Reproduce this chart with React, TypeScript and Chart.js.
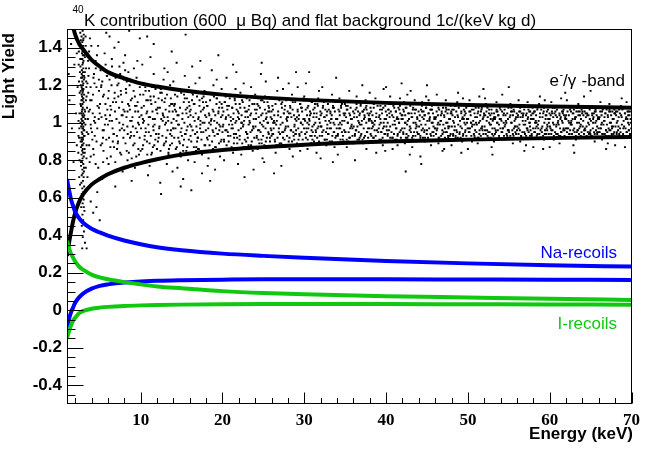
import React, { useEffect, useRef } from 'react';
import { Chart, registerables } from 'chart.js';

Chart.register(...registerables);

// ---- axis ticks ----
const xTickValues = [10, 20, 30, 40, 50, 60, 70];
const xMinorTicks = [2, 4, 6, 8, 12, 14, 16, 18, 22, 24, 26, 28, 32, 34, 36, 38, 42, 44, 46, 48, 52, 54, 56, 58, 62, 64, 66, 68];
const yTickValues = [-0.4, -0.2, 0, 0.2, 0.4, 0.6, 0.8, 1, 1.2, 1.4];
const yMinorTicks = [-0.45, -0.35, -0.3, -0.25, -0.15, -0.1, -0.05, 0.05, 0.1, 0.15, 0.25, 0.3, 0.35, 0.45, 0.5, 0.55, 0.65, 0.7, 0.75, 0.85, 0.9, 0.95, 1.05, 1.1, 1.15, 1.25, 1.3, 1.35, 1.45, 1.5];

// ---- band curves (energy keV -> light yield) ----
const curveEnergy = [1, 1.25, 1.5, 1.75, 2, 2.5, 3, 4, 5, 6, 8, 10, 12, 15, 20, 25, 30, 40, 50, 60, 70];
const eBandUpper = [1.67, 1.6, 1.55, 1.51, 1.47, 1.42, 1.39, 1.335, 1.3, 1.27, 1.237, 1.21, 1.193, 1.173, 1.15, 1.134, 1.122, 1.106, 1.095, 1.087, 1.08];
const eBandLower = [0.29, 0.36, 0.42, 0.475, 0.52, 0.58, 0.62, 0.67, 0.7, 0.725, 0.76, 0.785, 0.805, 0.83, 0.855, 0.87, 0.883, 0.9, 0.91, 0.918, 0.924];
const naUpper = [0.7, 0.64, 0.59, 0.555, 0.525, 0.49, 0.465, 0.435, 0.415, 0.398, 0.372, 0.352, 0.336, 0.32, 0.302, 0.29, 0.28, 0.263, 0.25, 0.24, 0.233];
const naLower = [-0.09, -0.045, -0.01, 0.015, 0.04, 0.07, 0.09, 0.115, 0.13, 0.138, 0.148, 0.153, 0.157, 0.16, 0.163, 0.165, 0.165, 0.165, 0.164, 0.163, 0.162];
const iUpper = [0.37, 0.33, 0.3, 0.28, 0.26, 0.232, 0.215, 0.19, 0.175, 0.165, 0.15, 0.138, 0.127, 0.117, 0.102, 0.092, 0.085, 0.075, 0.068, 0.061, 0.055];
const iLower = [-0.15, -0.11, -0.08, -0.055, -0.04, -0.015, -0.003, 0.008, 0.014, 0.018, 0.023, 0.026, 0.028, 0.03, 0.032, 0.033, 0.033, 0.033, 0.032, 0.031, 0.03];

// ---- scattered events [energy keV, light yield] ----
const peak3keV = [
  [2.91,1.49],[2.78,1.46],[3.05,1.47],[2.86,1.43],[2.97,1.41],[2.69,1.44],[3.12,1.39],[2.83,1.37],[2.94,1.36],[2.75,1.34],
  [3.02,1.33],[2.88,1.31],[2.64,1.3],[2.99,1.29],[3.18,1.27],[2.81,1.28],[2.92,1.25],[2.73,1.24],[3.06,1.23],[2.87,1.22],
  [2.95,1.2],[2.79,1.19],[3.01,1.18],[2.68,1.17],[2.9,1.16],[3.09,1.15],[2.84,1.14],[2.96,1.13],[2.76,1.12],[3.03,1.11],
  [2.89,1.1],[2.93,1.08],[2.71,1.09],[3.14,1.07],[2.82,1.06],[2.98,1.05],[2.87,1.04],[3.04,1.03],[2.77,1.02],[2.92,1.01],
  [2.85,0.99],[3.0,0.98],[2.66,1.0],[2.94,0.97],[3.11,0.96],[2.8,0.95],[2.89,0.94],[3.07,0.93],[2.74,0.92],[2.96,0.91],
  [2.83,0.9],[3.02,0.89],[2.91,0.88],[2.7,0.87],[3.15,0.86],[2.86,0.85],[2.97,0.84],[2.78,0.83],[3.05,0.82],[2.9,0.81],
  [2.84,0.79],[2.99,0.78],[2.72,0.77],[3.08,0.76],[2.88,0.75],[2.93,0.73],[2.8,0.72],[3.03,0.71],[2.95,0.69],[2.76,0.68],
  [3.1,0.66],[2.87,0.65],[2.98,0.63],[2.82,0.61],[3.04,0.59],[2.91,0.57],[2.74,0.55],[3.13,0.53],[2.89,0.51],[2.97,0.48],
  [2.81,0.45],[3.07,0.42],[2.93,0.39],[3.2,0.36],[2.86,0.33],[3.01,1.45],[2.89,1.38],[2.8,1.26],[3.0,1.21],[2.9,1.12],
  [2.85,1.07],[3.06,1.0],[2.94,0.92],[2.79,1.15],[2.93,1.03],[2.88,0.97],[3.08,1.25],[2.72,1.05],[2.95,1.32],[2.83,0.88]
];

// flat lists: energy, yield, energy, yield, ...
const peak3keVWide = [
  2.45,1.38, 3.35,1.22, 2.52,1.05, 3.42,0.95, 2.38,0.84, 3.28,1.41, 2.58,1.27, 3.31,1.12, 2.49,0.71, 3.38,0.81,
  2.62,1.48, 3.25,0.99, 2.55,1.16, 3.22,0.64, 2.43,1.31, 3.45,1.08, 2.67,0.9, 3.19,1.35, 2.51,0.97, 3.36,1.19,
  2.6,0.58, 3.3,0.76, 2.47,1.22, 3.24,1.02, 2.57,1.42, 3.4,0.88, 2.65,1.1, 3.16,0.93, 2.41,1.01, 3.33,1.29,
  2.54,0.8, 3.27,1.46, 2.63,1.34, 3.21,1.06, 2.48,0.92, 3.39,1.14, 2.59,0.67, 3.17,0.84, 2.69,1.2, 3.13,1.24,
  2.77,1.4, 3.09,1.36, 2.81,0.62, 3.05,0.55, 2.73,0.98, 3.0,1.13, 2.85,1.18, 2.96,1.27, 2.79,0.91, 3.04,0.96,
  2.88,1.34, 2.92,0.86, 2.75,1.09, 3.11,1.04, 2.83,1.24, 2.98,1.44, 2.7,0.79, 3.07,0.74, 2.86,1.01, 2.95,1.17
];

const bgLowEnergy = [
  [1.3,1.12],[1.6,0.97],[1.9,1.31],[2.1,1.05],[2.2,0.88],[1.5,1.42],[2.3,1.19],[1.8,0.79],[2.0,1.47],[2.4,0.93],[1.2,1.26],[2.2,1.37],
  [3.5,1.21],[3.6,0.94],[3.7,1.38],[3.8,1.07],[3.9,0.82],[3.6,1.16],[3.8,1.45],[3.9,0.99],[3.5,0.71],[3.7,1.29],
  [4.0,1.12],[4.1,0.91],[4.3,1.26],[4.4,1.03],[4.5,0.78],[4.6,1.19],[4.7,0.97],[4.8,1.41],[4.9,1.08],[4.2,0.86],[4.5,1.33],[4.7,0.63],[4.3,1.01],[4.9,1.23],
  [5.0,1.05],[5.1,1.28],[5.3,0.89],[5.4,1.14],[5.5,0.96],[5.6,1.37],[5.8,1.02],[5.9,0.81],[5.2,1.2],[5.4,0.92],[5.7,1.1],[5.8,1.48],[5.3,0.7],[5.9,1.25],
  [6.0,0.99],[6.1,1.17],[6.3,0.87],[6.4,1.07],[6.5,1.3],[6.7,0.94],[6.8,1.13],[6.9,0.79],[6.2,1.23],[6.5,1.01],[6.6,0.9],[6.8,1.4],[6.3,1.09],[6.9,0.66],
  [7.0,1.11],[7.1,0.93],[7.3,1.21],[7.4,1.0],[7.5,0.84],[7.6,1.15],[7.8,1.04],[7.9,1.32],[7.2,0.89],[7.5,1.26],[7.7,0.97],[7.8,0.74],[7.3,1.43],[7.9,1.07],
  [8.0,0.96],[8.2,1.18],[8.3,0.85],[8.4,1.06],[8.5,1.27],[8.7,0.92],[8.8,1.12],[8.9,1.01],[8.1,1.36],[8.4,0.8],[8.6,1.09],[8.8,0.95],[8.3,1.22],[8.9,0.69],
  [9.0,1.03],[9.1,0.88],[9.3,1.14],[9.4,0.97],[9.5,1.24],[9.7,1.06],[9.8,0.83],[9.9,1.19],[9.2,0.93],[9.5,1.09],[9.6,1.33],[9.8,0.99],[9.3,0.76],[9.9,1.45],
  [4.2,0.52],[5.0,0.48],[3.6,0.45],[3.9,0.58],[4.6,0.55],[3.4,0.33]
];

const bgLowEnergyDense = [
  3.55,1.02, 3.62,1.25, 3.71,0.88, 3.84,1.12, 3.93,0.97, 3.58,1.33, 3.77,0.79, 3.88,1.19, 3.66,1.06, 3.97,1.41,
  4.05,0.95, 4.18,1.15, 4.27,0.83, 4.36,1.21, 4.44,1.0, 4.52,1.29, 4.61,0.9, 4.73,1.09, 4.82,0.76, 4.91,1.17, 4.14,1.05, 4.39,0.93, 4.66,1.36, 4.87,1.02, 4.23,1.24,
  5.04,1.1, 5.13,0.88, 5.22,1.03, 5.31,1.22, 5.42,0.79, 5.51,1.15, 5.63,0.99, 5.72,1.31, 5.81,0.91, 5.93,1.07, 5.17,1.19, 5.46,0.85, 5.68,1.04, 5.87,1.25, 5.36,0.96,
  6.03,1.13, 6.14,0.92, 6.26,1.04, 6.35,0.82, 6.44,1.2, 6.57,0.97, 6.62,1.11, 6.75,0.87, 6.86,1.06, 6.94,1.24, 6.21,1.01, 6.48,1.34, 6.71,0.94, 6.83,1.16, 6.08,0.78,
  7.05,1.02, 7.16,1.2, 7.24,0.9, 7.37,1.08, 7.45,0.96, 7.58,1.17, 7.63,0.83, 7.74,1.11, 7.86,0.99, 7.95,1.23, 7.12,0.86, 7.41,1.3, 7.68,1.04, 7.89,0.92, 7.27,1.14,
  8.04,1.06, 8.15,0.89, 8.23,1.16, 8.38,0.98, 8.47,1.1, 8.56,0.84, 8.65,1.2, 8.73,1.01, 8.84,0.93, 8.96,1.13, 8.11,1.28, 8.42,0.94, 8.69,1.07, 8.91,0.81, 8.27,1.03,
  9.05,0.98, 9.14,1.17, 9.26,0.89, 9.35,1.06, 9.43,1.22, 9.57,0.95, 9.64,1.11, 9.72,0.86, 9.85,1.03, 9.94,1.15, 9.18,1.29, 9.47,0.82, 9.69,1.0, 9.88,0.92, 9.31,1.09
];

const bgMidEnergy = [
  [10.1,1.04],[10.3,0.88],[10.4,1.21],[10.6,0.97],[10.7,1.12],[10.9,0.79],[10.2,1.31],[10.5,0.93],[10.8,1.06],[10.0,0.85],[10.6,1.17],[10.3,1.0],[10.9,0.72],[10.4,1.09],
  [11.0,0.95],[11.2,1.14],[11.3,0.83],[11.5,1.02],[11.6,1.26],[11.8,0.91],[11.9,1.07],[11.1,0.77],[11.4,1.19],[11.7,0.99],[11.5,0.87],[11.2,1.35],[11.8,1.11],[11.0,1.03],
  [12.1,1.08],[12.2,0.92],[12.4,1.16],[12.5,0.81],[12.7,1.01],[12.8,1.23],[12.9,0.89],[12.3,0.98],[12.6,1.12],[12.0,0.86],[12.4,0.68],[12.7,1.05],[12.9,1.29],[12.2,0.94],
  [13.0,1.13],[13.1,0.9],[13.3,1.03],[13.4,0.84],[13.6,1.2],[13.7,0.96],[13.9,1.1],[13.2,0.78],[13.5,1.06],[13.8,0.93],[13.3,1.27],[13.6,0.88],[13.1,1.0],[13.9,0.74],
  [14.0,0.97],[14.2,1.15],[14.3,0.86],[14.5,1.04],[14.6,0.92],[14.8,1.18],[14.9,0.82],[14.1,1.09],[14.4,1.32],[14.7,0.99],[14.5,0.76],[14.2,1.07],[14.8,0.89],[14.0,1.22],
  [15.1,1.02],[15.2,0.85],[15.4,1.13],[15.5,0.94],[15.7,1.08],[15.8,0.8],[15.9,1.19],[15.3,0.91],[15.6,1.05],[15.0,0.97],[15.4,1.25],[15.7,0.87],[15.2,0.7],[15.9,1.11],
  [16.0,1.06],[16.1,0.93],[16.3,1.16],[16.4,0.84],[16.6,1.01],[16.7,1.21],[16.9,0.9],[16.2,0.98],[16.5,1.1],[16.8,0.87],[16.3,1.3],[16.6,0.79],[16.1,1.04],[16.9,0.95],
  [17.0,0.92],[17.2,1.12],[17.3,0.99],[17.5,0.83],[17.6,1.07],[17.8,1.17],[17.9,0.88],[17.1,1.03],[17.4,0.95],[17.7,1.14],[17.5,0.73],[17.2,1.24],[17.8,1.0],[17.0,0.86],
  [18.1,1.09],[18.2,0.91],[18.4,1.04],[18.5,0.85],[18.7,1.15],[18.8,0.96],[18.9,1.2],[18.3,0.81],[18.6,1.01],[18.0,1.11],[18.4,0.93],[18.7,1.28],[18.2,0.77],[18.9,1.06],
  [19.0,1.01],[19.1,0.87],[19.3,1.13],[19.4,0.94],[19.6,1.08],[19.7,0.82],[19.9,1.18],[19.2,0.97],[19.5,1.05],[19.8,0.9],[19.3,1.23],[19.6,0.99],[19.1,0.75],[19.9,1.1],
  [20.0,1.04],[20.2,0.9],[20.3,1.11],[20.5,0.96],[20.6,1.07],[20.8,0.86],[20.9,1.15],[20.1,0.99],[20.4,1.02],[20.7,0.93],[20.5,1.24],[20.2,0.8],[20.8,1.09],[20.0,0.95],
  [21.1,0.97],[21.2,1.08],[21.4,0.89],[21.5,1.13],[21.7,1.01],[21.8,0.92],[21.9,1.06],[21.3,0.84],[21.6,1.18],[21.0,1.03],[21.4,0.94],[21.7,1.27],[21.2,0.99],[21.9,0.78],
  [22.0,1.05],[22.1,0.91],[22.3,1.0],[22.4,1.12],[22.6,0.87],[22.7,1.08],[22.9,0.95],[22.2,1.16],[22.5,0.98],[22.8,1.03],[22.3,0.83],[22.6,1.21],[22.1,1.1],[22.9,0.9],
  [23.0,0.94],[23.2,1.07],[23.3,1.01],[23.5,0.88],[23.6,1.14],[23.8,0.97],[23.9,1.1],[23.1,0.92],[23.4,1.04],[23.7,0.85],[23.5,1.19],[23.2,0.99],[23.8,0.75],[23.0,1.06],
  [24.1,1.02],[24.2,0.93],[24.4,1.09],[24.5,0.96],[24.7,1.12],[24.8,0.89],[24.9,1.05],[24.3,0.86],[24.6,1.0],[24.0,1.15],[24.4,0.91],[24.7,1.26],[24.2,1.07],[24.9,0.81],
  [25.0,0.98],[25.1,1.11],[25.3,0.9],[25.4,1.03],[25.6,0.95],[25.7,1.08],[25.9,0.87],[25.2,1.14],[25.5,1.0],[25.8,0.92],[25.3,1.22],[25.6,1.06],[25.1,0.79],[25.9,0.97],
  [26.0,1.06],[26.2,0.94],[26.3,1.01],[26.5,1.13],[26.6,0.88],[26.8,1.04],[26.9,0.97],[26.1,1.09],[26.4,0.91],[26.7,1.17],[26.5,0.84],[26.2,1.0],[26.8,1.24],[26.0,0.93],
  [27.1,0.99],[27.2,1.1],[27.4,0.92],[27.5,1.05],[27.7,0.87],[27.8,1.12],[27.9,1.01],[27.3,0.95],[27.6,1.07],[27.0,0.89],[27.4,1.18],[27.7,0.97],[27.2,0.77],[27.9,1.03],
  [28.0,1.03],[28.1,0.9],[28.3,1.08],[28.4,0.96],[28.6,1.11],[28.7,0.93],[28.9,1.02],[28.2,0.86],[28.5,1.15],[28.8,0.98],[28.3,1.05],[28.6,0.82],[28.1,1.21],[28.9,0.94],
  [29.0,0.96],[29.2,1.06],[29.3,0.91],[29.5,1.1],[29.6,1.0],[29.8,0.88],[29.9,1.13],[29.1,1.03],[29.4,0.94],[29.7,1.08],[29.5,0.85],[29.2,1.19],[29.8,0.99],[29.0,1.27],
  [30.1,1.01],[30.2,0.92],[30.4,1.08],[30.5,0.97],[30.7,1.04],[30.8,0.89],[30.9,1.11],[30.3,0.95],[30.6,1.02],[30.0,1.14],[30.4,0.86],[30.7,1.06],[30.2,1.21],[30.9,0.93],
  [31.0,0.98],[31.1,1.07],[31.3,0.93],[31.5,1.03],[31.6,1.1],[31.8,0.9],[31.9,1.0],[31.2,1.05],[31.4,0.96],[31.7,1.13],[31.5,0.84],[31.2,0.99],[31.8,1.17],[31.0,0.91],
  [32.0,1.04],[32.2,0.95],[32.3,1.09],[32.5,0.91],[32.6,1.01],[32.8,1.06],[32.9,0.94],[32.1,0.98],[32.4,1.12],[32.7,0.88],[32.5,1.03],[32.2,1.19],[32.8,0.97],[32.0,0.81],
  [33.1,0.97],[33.2,1.05],[33.4,0.9],[33.5,1.08],[33.7,0.99],[33.8,1.11],[33.9,0.93],[33.3,1.02],[33.6,0.95],[33.0,1.07],[33.4,1.15],[33.7,0.87],[33.2,1.0],[33.9,1.24],
  [34.0,1.02],[34.1,0.93],[34.3,1.06],[34.4,0.97],[34.6,1.1],[34.7,0.91],[34.9,1.04],[34.2,0.99],[34.5,1.08],[34.8,0.89],[34.3,1.13],[34.6,0.95],[34.1,0.83],[34.9,1.01],
  [35.0,0.95],[35.2,1.07],[35.3,1.0],[35.5,0.92],[35.6,1.04],[35.8,1.11],[35.9,0.97],[35.1,1.09],[35.4,0.9],[35.7,1.02],[35.5,1.17],[35.2,0.87],[35.8,0.99],[35.0,1.05],
  [36.1,1.03],[36.2,0.94],[36.4,1.08],[36.5,0.98],[36.7,0.91],[36.8,1.05],[36.9,1.1],[36.3,0.96],[36.6,1.01],[36.0,0.89],[36.4,1.14],[36.7,1.0],[36.2,0.8],[36.9,0.93],
  [37.0,0.99],[37.1,1.06],[37.3,0.92],[37.4,1.03],[37.6,1.09],[37.7,0.95],[37.9,1.01],[37.2,0.89],[37.5,1.12],[37.8,0.97],[37.3,1.07],[37.6,0.86],[37.1,1.2],[37.9,1.04],
  [38.0,1.05],[38.2,0.93],[38.3,1.0],[38.5,1.1],[38.6,0.96],[38.8,1.03],[38.9,0.9],[38.1,1.08],[38.4,0.98],[38.7,1.13],[38.5,0.92],[38.2,1.01],[38.8,0.84],[38.0,1.16],
  [39.1,0.97],[39.2,1.04],[39.4,0.91],[39.5,1.07],[39.7,1.0],[39.8,0.94],[39.9,1.09],[39.3,1.02],[39.6,0.88],[39.0,1.11],[39.4,0.95],[39.7,1.18],[39.2,0.99],[39.9,0.85]
];

const bgMidEnergyDense = [
  10.05,0.97, 10.12,1.08, 10.21,0.86, 10.33,1.15, 10.41,1.01, 10.48,0.91, 10.57,1.19, 10.64,0.95, 10.72,1.05, 10.81,0.83, 10.88,1.12, 10.95,0.99, 11.03,1.17, 11.09,0.89, 11.16,1.03, 11.24,0.93, 11.31,1.1, 11.38,0.84, 11.45,1.06, 11.53,0.98, 11.61,1.14, 11.67,0.88, 11.74,1.02, 11.82,1.18, 11.89,0.94, 11.96,1.07, 10.27,1.02, 10.77,0.9, 11.21,1.12, 11.58,0.96,
  12.04,1.05, 12.11,0.9, 12.19,1.13, 12.27,0.97, 12.35,1.08, 12.43,0.85, 12.52,1.02, 12.58,1.16, 12.66,0.93, 12.74,1.04, 12.83,0.88, 12.91,1.11, 12.98,0.99, 13.06,1.07, 13.13,0.92, 13.22,1.15, 13.29,0.96, 13.37,1.01, 13.46,0.86, 13.53,1.09, 13.61,0.94, 13.69,1.13, 13.77,1.0, 13.84,0.89, 13.92,1.06, 13.99,0.97, 12.47,1.18, 12.88,1.03, 13.41,0.83, 13.73,1.1,
  14.03,1.02, 14.11,0.92, 14.18,1.1, 14.26,0.97, 14.34,1.06, 14.42,0.87, 14.49,1.14, 14.57,0.99, 14.64,1.04, 14.72,0.9, 14.81,1.08, 14.89,0.95, 14.96,1.16, 15.04,0.93, 15.12,1.05, 15.19,0.88, 15.27,1.11, 15.35,1.0, 15.43,0.94, 15.51,1.07, 15.58,0.85, 15.66,1.13, 15.74,0.98, 15.82,1.03, 15.89,0.91, 15.97,1.09, 14.38,1.01, 14.85,0.84, 15.31,1.15, 15.62,0.96,
  16.04,0.99, 16.12,1.07, 16.19,0.9, 16.28,1.12, 16.35,0.96, 16.43,1.03, 16.51,0.87, 16.58,1.1, 16.66,0.94, 16.73,1.05, 16.82,0.98, 16.89,1.14, 16.97,0.92, 17.04,1.02, 17.12,0.86, 17.19,1.09, 17.27,0.97, 17.36,1.06, 17.43,0.91, 17.51,1.13, 17.58,1.0, 17.66,0.95, 17.74,1.08, 17.81,0.88, 17.89,1.04, 17.97,0.96, 16.39,1.15, 16.77,0.85, 17.31,1.01, 17.62,1.11,
  18.03,1.03, 18.11,0.92, 18.18,1.09, 18.26,0.97, 18.34,1.05, 18.42,0.88, 18.49,1.12, 18.57,0.99, 18.65,1.02, 18.73,0.9, 18.81,1.07, 18.88,0.95, 18.96,1.14, 19.04,0.93, 19.12,1.04, 19.19,0.87, 19.27,1.1, 19.35,1.0, 19.43,0.94, 19.51,1.06, 19.58,0.89, 19.66,1.11, 19.74,0.98, 19.82,1.03, 19.89,0.91, 19.97,1.08, 18.38,1.0, 18.85,0.86, 19.31,1.13, 19.62,0.96,
  20.04,0.98, 20.12,1.06, 20.19,0.91, 20.27,1.11, 20.35,0.96, 20.43,1.03, 20.51,0.88, 20.58,1.09, 20.66,0.95, 20.74,1.04, 20.82,0.99, 20.89,1.13, 20.97,0.93, 21.04,1.01, 21.12,0.87, 21.19,1.08, 21.27,0.97, 21.36,1.05, 21.43,0.92, 21.51,1.12, 21.58,1.0, 21.66,0.94, 21.74,1.07, 21.81,0.89, 21.89,1.03, 21.97,0.96, 20.39,1.14, 20.77,0.9, 21.31,1.02, 21.62,1.1,
  22.03,1.02, 22.11,0.93, 22.18,1.08, 22.26,0.97, 22.34,1.04, 22.42,0.89, 22.49,1.11, 22.57,0.99, 22.65,1.01, 22.73,0.91, 22.81,1.06, 22.88,0.95, 22.96,1.13, 23.04,0.94, 23.12,1.03, 23.19,0.88, 23.27,1.09, 23.35,1.0, 23.43,0.95, 23.51,1.05, 23.58,0.9, 23.66,1.1, 23.74,0.98, 23.82,1.02, 23.89,0.92, 23.97,1.07, 22.38,1.0, 22.85,0.87, 23.31,1.12, 23.62,0.96,
  24.04,0.98, 24.12,1.05, 24.19,0.92, 24.27,1.1, 24.35,0.96, 24.43,1.03, 24.51,0.89, 24.58,1.08, 24.66,0.95, 24.74,1.04, 24.82,0.99, 24.89,1.12, 24.97,0.93, 25.04,1.01, 25.12,0.88, 25.19,1.07, 25.27,0.97, 25.36,1.05, 25.43,0.92, 25.51,1.11, 25.58,1.0, 25.66,0.94, 25.74,1.06, 25.81,0.9, 25.89,1.03, 25.97,0.96, 24.39,1.13, 24.77,0.91, 25.31,1.02, 25.62,1.09,
  26.03,1.02, 26.11,0.94, 26.18,1.07, 26.26,0.97, 26.34,1.04, 26.42,0.9, 26.49,1.1, 26.57,0.99, 26.65,1.01, 26.73,0.92, 26.81,1.06, 26.88,0.95, 26.96,1.12, 27.04,0.94, 27.12,1.03, 27.19,0.89, 27.27,1.08, 27.35,1.0, 27.43,0.95, 27.51,1.05, 27.58,0.91, 27.66,1.09, 27.74,0.98, 27.82,1.02, 27.89,0.93, 27.97,1.06, 26.38,1.0, 26.85,0.88, 27.31,1.11, 27.62,0.96,
  28.04,0.98, 28.12,1.05, 28.19,0.92, 28.27,1.09, 28.35,0.96, 28.43,1.03, 28.51,0.9, 28.58,1.07, 28.66,0.95, 28.74,1.04, 28.82,0.99, 28.89,1.11, 28.97,0.94, 29.04,1.01, 29.12,0.89, 29.19,1.07, 29.27,0.97, 29.36,1.04, 29.43,0.93, 29.51,1.1, 29.58,1.0, 29.66,0.95, 29.74,1.06, 29.81,0.91, 29.89,1.02, 29.97,0.97, 28.39,1.12, 28.77,0.91, 29.31,1.02, 29.62,1.08,
  30.03,1.02, 30.11,0.94, 30.18,1.07, 30.26,0.97, 30.34,1.04, 30.42,0.91, 30.49,1.09, 30.57,0.99, 30.65,1.01, 30.73,0.93, 30.81,1.05, 30.88,0.96, 30.96,1.11, 31.04,0.95, 31.12,1.03, 31.19,0.9, 31.27,1.08, 31.35,1.0, 31.43,0.95, 31.51,1.05, 31.58,0.92, 31.66,1.09, 31.74,0.98, 31.82,1.02, 31.89,0.93, 31.97,1.06, 30.38,1.0, 30.85,0.89, 31.31,1.1, 31.62,0.97,
  32.04,0.98, 32.12,1.05, 32.19,0.93, 32.27,1.08, 32.35,0.96, 32.43,1.03, 32.51,0.91, 32.58,1.07, 32.66,0.95, 32.74,1.04, 32.82,0.99, 32.89,1.1, 32.97,0.94, 33.04,1.01, 33.12,0.9, 33.19,1.06, 33.27,0.97, 33.36,1.04, 33.43,0.93, 33.51,1.09, 33.58,1.0, 33.66,0.95, 33.74,1.06, 33.81,0.92, 33.89,1.02, 33.97,0.97, 32.39,1.11, 32.77,0.91, 33.31,1.02, 33.62,1.08,
  34.03,1.02, 34.11,0.94, 34.18,1.07, 34.26,0.97, 34.34,1.04, 34.42,0.91, 34.49,1.09, 34.57,0.99, 34.65,1.01, 34.73,0.93, 34.81,1.05, 34.88,0.96, 34.96,1.1, 35.04,0.95, 35.12,1.03, 35.19,0.91, 35.27,1.07, 35.35,1.0, 35.43,0.95, 35.51,1.05, 35.58,0.92, 35.66,1.08, 35.74,0.98, 35.82,1.02, 35.89,0.93, 35.97,1.06, 34.38,1.0, 34.85,0.9, 35.31,1.09, 35.62,0.97,
  36.04,0.98, 36.12,1.05, 36.19,0.93, 36.27,1.07, 36.35,0.96, 36.43,1.03, 36.51,0.91, 36.58,1.06, 36.66,0.95, 36.74,1.04, 36.82,0.99, 36.89,1.09, 36.97,0.94, 37.04,1.01, 37.12,0.91, 37.19,1.06, 37.27,0.97, 37.36,1.04, 37.43,0.93, 37.51,1.08, 37.58,1.0, 37.66,0.95, 37.74,1.05, 37.81,0.92, 37.89,1.02, 37.97,0.97, 36.39,1.1, 36.77,0.92, 37.31,1.02, 37.62,1.07,
  38.03,1.02, 38.11,0.94, 38.18,1.06, 38.26,0.97, 38.34,1.04, 38.42,0.92, 38.49,1.08, 38.57,0.99, 38.65,1.01, 38.73,0.93, 38.81,1.05, 38.88,0.96, 38.96,1.09, 39.04,0.95, 39.12,1.03, 39.19,0.91, 39.27,1.07, 39.35,1.0, 39.43,0.95, 39.51,1.05, 39.58,0.92, 39.66,1.08, 39.74,0.98, 39.82,1.02, 39.89,0.94, 39.97,1.06, 38.38,1.0, 38.85,0.9, 39.31,1.09, 39.62,0.97
];

const bgHighEnergy = [
  [40.0,1.02],[40.2,0.94],[40.3,1.07],[40.5,0.98],[40.6,1.1],[40.8,0.92],[40.9,1.03],[40.1,0.96],[40.4,1.05],[40.7,0.9],[40.5,1.14],[40.2,1.0],[40.8,0.86],[40.0,1.19],
  [41.1,0.99],[41.2,1.06],[41.4,0.93],[41.5,1.02],[41.7,1.09],[41.8,0.96],[41.9,1.04],[41.3,0.91],[41.6,1.0],[41.0,1.08],[41.4,0.88],[41.7,1.13],[41.2,0.97],[41.9,1.21],
  [42.0,1.04],[42.1,0.95],[42.3,1.0],[42.4,1.08],[42.6,0.92],[42.7,1.05],[42.9,0.98],[42.2,1.11],[42.5,0.94],[42.8,1.02],[42.3,0.89],[42.6,1.15],[42.1,1.07],[42.9,0.83],
  [43.0,0.97],[43.2,1.03],[43.3,0.93],[43.5,1.07],[43.6,1.0],[43.8,0.95],[43.9,1.1],[43.1,1.05],[43.4,0.91],[43.7,0.99],[43.5,1.12],[43.2,0.87],[43.8,1.03],[43.0,1.17],
  [44.1,1.01],[44.2,0.92],[44.4,1.06],[44.5,0.97],[44.7,1.04],[44.8,0.9],[44.9,1.08],[44.3,0.99],[44.6,1.02],[44.0,0.94],[44.4,1.11],[44.7,0.96],[44.2,0.82],[44.9,1.14],
  [45.0,0.96],[45.2,1.05],[45.3,1.01],[45.5,0.93],[45.6,1.09],[45.8,0.98],[45.9,1.03],[45.1,0.91],[45.4,1.07],[45.7,1.0],[45.5,0.88],[45.2,1.12],[45.8,0.95],[45.0,1.2],
  [46.1,1.03],[46.2,0.96],[46.4,1.08],[46.5,0.92],[46.7,1.01],[46.8,1.06],[46.9,0.94],[46.3,0.99],[46.6,1.1],[46.0,0.97],[46.4,0.89],[46.7,1.04],[46.2,1.15],[46.9,0.85],
  [47.0,0.99],[47.1,1.04],[47.3,0.95],[47.4,1.07],[47.6,0.92],[47.7,1.02],[47.9,1.09],[47.2,0.97],[47.5,1.0],[47.8,0.93],[47.3,1.12],[47.6,0.98],[47.1,0.86],[47.9,1.05],
  [48.0,1.05],[48.2,0.94],[48.3,1.0],[48.5,1.09],[48.6,0.96],[48.8,1.03],[48.9,0.91],[48.1,1.07],[48.4,0.98],[48.7,1.11],[48.5,0.93],[48.2,1.01],[48.8,1.16],[48.0,0.88],
  [49.1,0.98],[49.2,1.06],[49.4,0.93],[49.5,1.02],[49.7,0.96],[49.8,1.08],[49.9,1.0],[49.3,0.9],[49.6,1.04],[49.0,0.95],[49.4,1.13],[49.7,0.99],[49.2,0.84],[49.9,1.1],
  [50.0,1.02],[50.2,0.95],[50.3,1.06],[50.5,0.98],[50.6,1.09],[50.8,0.93],[50.9,1.03],[50.1,0.97],[50.4,1.0],[50.7,1.07],[50.5,0.9],[50.2,1.12],[50.8,0.99],[50.0,0.86],
  [51.1,0.99],[51.2,1.05],[51.4,0.94],[51.5,1.01],[51.7,1.08],[51.8,0.96],[51.9,1.03],[51.3,0.92],[51.6,1.06],[51.0,1.0],[51.4,1.14],[51.7,0.97],[51.2,0.89],[51.9,1.18],
  [52.0,1.04],[52.1,0.96],[52.3,1.01],[52.4,0.93],[52.6,1.07],[52.7,0.99],[52.9,1.05],[52.2,1.1],[52.5,0.95],[52.8,1.02],[52.3,0.91],[52.6,1.0],[52.1,1.13],[52.9,0.87],
  [53.0,0.97],[53.2,1.03],[53.3,0.94],[53.5,1.06],[53.6,1.0],[53.8,0.92],[53.9,1.08],[53.1,1.02],[53.4,0.96],[53.7,1.04],[53.5,1.11],[53.2,0.9],[53.8,0.99],[53.0,0.83],
  [54.1,1.01],[54.2,0.95],[54.4,1.05],[54.5,0.98],[54.7,1.09],[54.8,0.93],[54.9,1.02],[54.3,0.97],[54.6,1.04],[54.0,1.07],[54.4,0.91],[54.7,1.0],[54.2,1.15],[54.9,0.96],
  [55.0,0.96],[55.2,1.04],[55.3,1.0],[55.5,0.94],[55.6,1.07],[55.8,0.98],[55.9,1.03],[55.1,0.92],[55.4,1.06],[55.7,1.01],[55.5,0.89],[55.2,1.1],[55.8,0.95],[55.0,1.19],
  [56.1,1.03],[56.2,0.97],[56.4,1.06],[56.5,0.93],[56.7,1.01],[56.8,1.05],[56.9,0.95],[56.3,0.99],[56.6,1.09],[56.0,0.96],[56.4,0.9],[56.7,1.03],[56.2,1.12],[56.9,0.85],
  [57.0,0.99],[57.1,1.04],[57.3,0.96],[57.4,1.07],[57.6,0.93],[57.7,1.02],[57.9,1.08],[57.2,0.97],[57.5,1.0],[57.8,0.94],[57.3,1.11],[57.6,0.98],[57.1,0.88],[57.9,1.05],
  [58.0,1.05],[58.2,0.95],[58.3,1.01],[58.5,1.08],[58.6,0.97],[58.8,1.03],[58.9,0.92],[58.1,1.06],[58.4,0.98],[58.7,1.1],[58.5,0.94],[58.2,1.0],[58.8,1.14],[58.0,0.87],
  [59.1,0.98],[59.2,1.05],[59.4,0.94],[59.5,1.02],[59.7,0.96],[59.8,1.07],[59.9,1.0],[59.3,0.91],[59.6,1.04],[59.0,0.97],[59.4,1.12],[59.7,0.99],[59.2,0.86],[59.9,1.09],
  [60.0,1.02],[60.2,0.96],[60.3,1.05],[60.5,0.99],[60.6,1.08],[60.8,0.94],[60.9,1.03],[60.1,0.97],[60.4,1.0],[60.7,1.06],[60.5,0.91],[60.2,1.11],[60.8,0.98],[60.0,0.87],
  [61.1,0.99],[61.2,1.04],[61.4,0.95],[61.5,1.01],[61.7,1.07],[61.8,0.96],[61.9,1.03],[61.3,0.93],[61.6,1.05],[61.0,1.0],[61.4,1.13],[61.7,0.97],[61.2,0.89],[61.9,1.16],
  [62.0,1.04],[62.1,0.97],[62.3,1.01],[62.4,0.94],[62.6,1.06],[62.7,0.99],[62.9,1.05],[62.2,1.09],[62.5,0.96],[62.8,1.02],[62.3,0.92],[62.6,1.0],[62.1,1.12],[62.9,0.88],
  [63.0,0.97],[63.2,1.03],[63.3,0.95],[63.5,1.06],[63.6,1.0],[63.8,0.93],[63.9,1.07],[63.1,1.02],[63.4,0.96],[63.7,1.04],[63.5,1.1],[63.2,0.91],[63.8,0.99],[63.0,0.84],
  [64.1,1.01],[64.2,0.96],[64.4,1.05],[64.5,0.98],[64.7,1.08],[64.8,0.94],[64.9,1.02],[64.3,0.97],[64.6,1.04],[64.0,1.06],[64.4,0.92],[64.7,1.0],[64.2,1.14],[64.9,0.95],
  [65.0,0.96],[65.2,1.04],[65.3,1.0],[65.5,0.94],[65.6,1.07],[65.8,0.98],[65.9,1.03],[65.1,0.93],[65.4,1.05],[65.7,1.01],[65.5,0.9],[65.2,1.09],[65.8,0.95],[65.0,1.17],
  [66.1,1.03],[66.2,0.97],[66.4,1.06],[66.5,0.94],[66.7,1.01],[66.8,1.05],[66.9,0.96],[66.3,0.99],[66.6,1.08],[66.0,0.95],[66.4,0.91],[66.7,1.03],[66.2,1.11],[66.9,0.86],
  [67.0,0.99],[67.1,1.04],[67.3,0.96],[67.4,1.06],[67.6,0.93],[67.7,1.02],[67.9,1.07],[67.2,0.97],[67.5,1.0],[67.8,0.94],[67.3,1.1],[67.6,0.98],[67.1,0.89],[67.9,1.05],
  [68.0,1.05],[68.2,0.95],[68.3,1.01],[68.5,1.07],[68.6,0.97],[68.8,1.03],[68.9,0.93],[68.1,1.06],[68.4,0.98],[68.7,1.09],[68.5,0.94],[68.2,1.0],[68.8,1.13],[68.0,0.88],
  [69.1,0.98],[69.2,1.05],[69.4,0.95],[69.5,1.02],[69.7,0.96],[69.8,1.06],[69.9,1.0],[69.3,0.92],[69.6,1.04],[69.0,0.97],[69.4,1.11],[69.7,0.99],[69.2,0.87],[69.9,1.08]
];

const bgHighEnergyDense = [
  40.04,0.98, 40.12,1.04, 40.19,0.93, 40.27,1.07, 40.35,0.96, 40.43,1.03, 40.51,0.92, 40.58,1.06, 40.66,0.95, 40.74,1.04, 40.82,0.99, 40.89,1.09, 40.97,0.94, 41.04,1.01, 41.12,0.91, 41.19,1.06, 41.27,0.97, 41.36,1.03, 41.43,0.94, 41.51,1.08, 41.58,1.0, 41.66,0.95, 41.74,1.05, 41.81,0.92, 41.89,1.02, 41.97,0.97, 40.39,1.1, 40.77,0.92, 41.31,1.02, 41.62,1.07,
  42.03,1.02, 42.11,0.94, 42.18,1.06, 42.26,0.97, 42.34,1.04, 42.42,0.92, 42.49,1.08, 42.57,0.99, 42.65,1.01, 42.73,0.93, 42.81,1.05, 42.88,0.96, 42.96,1.09, 43.04,0.95, 43.12,1.03, 43.19,0.92, 43.27,1.07, 43.35,1.0, 43.43,0.95, 43.51,1.05, 43.58,0.93, 43.66,1.07, 43.74,0.98, 43.82,1.02, 43.89,0.94, 43.97,1.06, 42.38,1.0, 42.85,0.91, 43.31,1.08, 43.62,0.97,
  44.04,0.98, 44.12,1.04, 44.19,0.93, 44.27,1.07, 44.35,0.96, 44.43,1.03, 44.51,0.92, 44.58,1.06, 44.66,0.95, 44.74,1.04, 44.82,0.99, 44.89,1.08, 44.97,0.94, 45.04,1.01, 45.12,0.92, 45.19,1.05, 45.27,0.97, 45.36,1.03, 45.43,0.94, 45.51,1.07, 45.58,1.0, 45.66,0.95, 45.74,1.05, 45.81,0.93, 45.89,1.02, 45.97,0.97, 44.39,1.09, 44.77,0.92, 45.31,1.02, 45.62,1.07,
  46.03,1.02, 46.11,0.94, 46.18,1.06, 46.26,0.97, 46.34,1.04, 46.42,0.92, 46.49,1.07, 46.57,0.99, 46.65,1.01, 46.73,0.93, 46.81,1.05, 46.88,0.96, 46.96,1.08, 47.04,0.95, 47.12,1.03, 47.19,0.92, 47.27,1.06, 47.35,1.0, 47.43,0.95, 47.51,1.05, 47.58,0.93, 47.66,1.07, 47.74,0.98, 47.82,1.02, 47.89,0.94, 47.97,1.06, 46.38,1.0, 46.85,0.91, 47.31,1.08, 47.62,0.97,
  48.04,0.98, 48.12,1.04, 48.19,0.93, 48.27,1.07, 48.35,0.96, 48.43,1.03, 48.51,0.92, 48.58,1.06, 48.66,0.95, 48.74,1.04, 48.82,0.99, 48.89,1.08, 48.97,0.94, 49.04,1.01, 49.12,0.92, 49.19,1.05, 49.27,0.97, 49.36,1.03, 49.43,0.94, 49.51,1.07, 49.58,1.0, 49.66,0.95, 49.74,1.05, 49.81,0.93, 49.89,1.02, 49.97,0.97, 48.39,1.09, 48.77,0.92, 49.31,1.02, 49.62,1.06,
  50.03,1.02, 50.11,0.95, 50.18,1.06, 50.26,0.97, 50.34,1.04, 50.42,0.93, 50.49,1.07, 50.57,0.99, 50.65,1.01, 50.73,0.94, 50.81,1.05, 50.88,0.96, 50.96,1.08, 51.04,0.95, 51.12,1.03, 51.19,0.92, 51.27,1.06, 51.35,1.0, 51.43,0.96, 51.51,1.04, 51.58,0.93, 51.66,1.07, 51.74,0.98, 51.82,1.02, 51.89,0.94, 51.97,1.05, 50.38,1.0, 50.85,0.92, 51.31,1.08, 51.62,0.97,
  52.04,0.98, 52.12,1.04, 52.19,0.94, 52.27,1.06, 52.35,0.96, 52.43,1.03, 52.51,0.92, 52.58,1.05, 52.66,0.95, 52.74,1.04, 52.82,0.99, 52.89,1.07, 52.97,0.94, 53.04,1.01, 53.12,0.93, 53.19,1.05, 53.27,0.97, 53.36,1.03, 53.43,0.95, 53.51,1.07, 53.58,1.0, 53.66,0.96, 53.74,1.04, 53.81,0.93, 53.89,1.02, 53.97,0.97, 52.39,1.08, 52.77,0.92, 53.31,1.02, 53.62,1.06,
  54.03,1.02, 54.11,0.95, 54.18,1.06, 54.26,0.97, 54.34,1.04, 54.42,0.93, 54.49,1.07, 54.57,0.99, 54.65,1.01, 54.73,0.94, 54.81,1.05, 54.88,0.96, 54.96,1.08, 55.04,0.95, 55.12,1.03, 55.19,0.93, 55.27,1.06, 55.35,1.0, 55.43,0.96, 55.51,1.04, 55.58,0.93, 55.66,1.06, 55.74,0.98, 55.82,1.02, 55.89,0.94, 55.97,1.05, 54.38,1.0, 54.85,0.92, 55.31,1.08, 55.62,0.97,
  56.04,0.98, 56.12,1.04, 56.19,0.94, 56.27,1.06, 56.35,0.96, 56.43,1.03, 56.51,0.93, 56.58,1.05, 56.66,0.95, 56.74,1.04, 56.82,0.99, 56.89,1.07, 56.97,0.94, 57.04,1.01, 57.12,0.93, 57.19,1.05, 57.27,0.97, 57.36,1.03, 57.43,0.95, 57.51,1.06, 57.58,1.0, 57.66,0.96, 57.74,1.04, 57.81,0.93, 57.89,1.02, 57.97,0.97, 56.39,1.08, 56.77,0.92, 57.31,1.02, 57.62,1.06,
  58.03,1.02, 58.11,0.95, 58.18,1.06, 58.26,0.97, 58.34,1.04, 58.42,0.93, 58.49,1.07, 58.57,0.99, 58.65,1.01, 58.73,0.94, 58.81,1.05, 58.88,0.96, 58.96,1.07, 59.04,0.95, 59.12,1.03, 59.19,0.93, 59.27,1.06, 59.35,1.0, 59.43,0.96, 59.51,1.04, 59.58,0.94, 59.66,1.06, 59.74,0.98, 59.82,1.02, 59.89,0.94, 59.97,1.05, 58.38,1.0, 58.85,0.92, 59.31,1.08, 59.62,0.97,
  60.04,0.98, 60.12,1.04, 60.19,0.94, 60.27,1.06, 60.35,0.96, 60.43,1.03, 60.51,0.93, 60.58,1.05, 60.66,0.95, 60.74,1.04, 60.82,0.99, 60.89,1.07, 60.97,0.94, 61.04,1.01, 61.12,0.93, 61.19,1.05, 61.27,0.97, 61.36,1.03, 61.43,0.95, 61.51,1.06, 61.58,1.0, 61.66,0.96, 61.74,1.04, 61.81,0.93, 61.89,1.02, 61.97,0.97, 60.39,1.08, 60.77,0.92, 61.31,1.02, 61.62,1.06,
  62.03,1.02, 62.11,0.95, 62.18,1.06, 62.26,0.97, 62.34,1.04, 62.42,0.94, 62.49,1.07, 62.57,0.99, 62.65,1.01, 62.73,0.94, 62.81,1.05, 62.88,0.96, 62.96,1.07, 63.04,0.95, 63.12,1.03, 63.19,0.93, 63.27,1.06, 63.35,1.0, 63.43,0.96, 63.51,1.04, 63.58,0.94, 63.66,1.06, 63.74,0.98, 63.82,1.02, 63.89,0.95, 63.97,1.05, 62.38,1.0, 62.85,0.92, 63.31,1.08, 63.62,0.97,
  64.04,0.98, 64.12,1.04, 64.19,0.94, 64.27,1.06, 64.35,0.96, 64.43,1.03, 64.51,0.93, 64.58,1.05, 64.66,0.95, 64.74,1.04, 64.82,0.99, 64.89,1.07, 64.97,0.94, 65.04,1.01, 65.12,0.93, 65.19,1.05, 65.27,0.97, 65.36,1.03, 65.43,0.95, 65.51,1.06, 65.58,1.0, 65.66,0.96, 65.74,1.04, 65.81,0.94, 65.89,1.02, 65.97,0.97, 64.39,1.08, 64.77,0.92, 65.31,1.02, 65.62,1.06,
  66.03,1.02, 66.11,0.95, 66.18,1.06, 66.26,0.97, 66.34,1.04, 66.42,0.94, 66.49,1.07, 66.57,0.99, 66.65,1.01, 66.73,0.94, 66.81,1.05, 66.88,0.96, 66.96,1.07, 67.04,0.95, 67.12,1.03, 67.19,0.93, 67.27,1.06, 67.35,1.0, 67.43,0.96, 67.51,1.04, 67.58,0.94, 67.66,1.06, 67.74,0.98, 67.82,1.02, 67.89,0.95, 67.97,1.05, 66.38,1.0, 66.85,0.93, 67.31,1.07, 67.62,0.97,
  68.04,0.98, 68.12,1.04, 68.19,0.94, 68.27,1.06, 68.35,0.96, 68.43,1.03, 68.51,0.93, 68.58,1.05, 68.66,0.95, 68.74,1.04, 68.82,0.99, 68.89,1.07, 68.97,0.94, 69.04,1.01, 69.12,0.93, 69.19,1.05, 69.27,0.97, 69.36,1.03, 69.43,0.95, 69.51,1.06, 69.58,1.0, 69.66,0.96, 69.74,1.04, 69.81,0.94, 69.89,1.02, 69.97,0.97, 68.39,1.08, 68.77,0.92, 69.31,1.02, 69.62,1.06
];

const bgOutliers = [
  [11.6,1.42],[13.8,1.38],[15.5,1.47],[17.3,1.33],[19.5,1.36],[21.3,1.31],[12.5,0.62],[14.9,0.66],[16.2,0.64],[18.5,0.69],
  [22.7,0.71],[26.3,0.73],[10.8,1.46],[8.6,1.49],[6.2,1.46],[24.8,1.32],[42.4,0.74],[33.5,0.79],[44.3,0.78],[30.6,1.27]
];

const BLACK = '#000000';
const BLUE = '#0000ff';
const GREEN = '#10c810';

function curve(values: number[]) {
  return curveEnergy.map((e, i) => ({ x: e, y: values[i] }));
}
function pts(list: number[][]) {
  return list.map(([x, y]) => ({ x, y }));
}
function flatPts(flat: number[]) {
  const out: { x: number; y: number }[] = [];
  for (let i = 0; i + 1 < flat.length; i += 2) out.push({ x: flat[i], y: flat[i + 1] });
  return out;
}

const decorPlugin = {
  id: 'decor',
  afterDraw(chart: any) {
    const { ctx, chartArea: a, scales } = chart;
    const xs = scales.x;
    const ys = scales.y;
    ctx.save();
    ctx.strokeStyle = '#000';
    ctx.lineWidth = 1;
    ctx.strokeRect(Math.round(a.left) + 0.5, Math.round(a.top) + 0.5, Math.round(a.right - a.left) - 1, Math.round(a.bottom - a.top) - 1);
    ctx.beginPath();
    const b = Math.round(a.bottom) - 0.5;
    const l = Math.round(a.left) + 0.5;
    xTickValues.forEach((v) => {
      const px = Math.round(xs.getPixelForValue(v)) + 0.5;
      ctx.moveTo(px, b); ctx.lineTo(px, b - 11);
    });
    xMinorTicks.forEach((v) => {
      const px = Math.round(xs.getPixelForValue(v)) + 0.5;
      ctx.moveTo(px, b); ctx.lineTo(px, b - 5.5);
    });
    yTickValues.forEach((v) => {
      const py = Math.round(ys.getPixelForValue(v)) + 0.5;
      ctx.moveTo(l, py); ctx.lineTo(l + 16, py);
    });
    yMinorTicks.forEach((v) => {
      const py = Math.round(ys.getPixelForValue(v)) + 0.5;
      ctx.moveTo(l, py); ctx.lineTo(l + 8, py);
    });
    ctx.stroke();

    ctx.fillStyle = '#000';
    ctx.textAlign = 'left';
    ctx.textBaseline = 'alphabetic';
    ctx.font = '10px "Liberation Sans"';
    ctx.fillText('40', 72.5, 12.5);
    ctx.font = '17px "Liberation Sans"';
    ctx.fillText('K contribution (600  \u03bc Bq) and flat background 1c/(keV kg d)', 84, 26);

    ctx.font = 'bold 17px "Liberation Sans"';
    ctx.textAlign = 'right';
    ctx.fillText('Energy (keV)', 633, 439);
    ctx.save();
    ctx.translate(14, 33);
    ctx.rotate(-Math.PI / 2);
    ctx.fillText('Light Yield', 0, 0);
    ctx.restore();

    ctx.font = '17px "Liberation Sans"';
    ctx.textAlign = 'left';
    ctx.fillText('e', 549.5, 86);
    ctx.font = '11px "Liberation Sans"';
    ctx.fillText('-', 559.5, 78);
    ctx.font = '17px "Liberation Sans"';
    ctx.fillText('/\u03b3', 563, 86);
    ctx.textAlign = 'right';
    ctx.fillText('-band', 625, 86);
    ctx.fillStyle = BLUE;
    ctx.fillText('Na-recoils', 617, 258);
    ctx.fillStyle = GREEN;
    ctx.fillText('I-recoils', 617, 329);
    ctx.restore();
  },
};

export default function App() {
  const ref = useRef<HTMLCanvasElement | null>(null);
  useEffect(() => {
    if (!ref.current) return;
    const lineDs = (label: string, values: number[], color: string) => ({
      label,
      data: curve(values),
      showLine: true,
      borderColor: color,
      backgroundColor: color,
      borderWidth: 4,
      borderCapStyle: 'butt',
      pointRadius: 0,
      cubicInterpolationMode: 'monotone',
      fill: false,
      order: 0,
    });
    const dotDs = (label: string, data: { x: number; y: number }[]) => ({
      label,
      data,
      showLine: false,
      pointStyle: 'rect',
      pointRadius: 1.4,
      pointBorderWidth: 0,
      borderWidth: 0,
      backgroundColor: '#000',
      borderColor: '#000',
      order: 5,
    });
    const chart = new Chart(ref.current, {
      type: 'scatter',
      data: {
        datasets: [
          lineDs('I-recoils lower', iLower, GREEN),
          lineDs('I-recoils upper', iUpper, GREEN),
          lineDs('Na-recoils lower', naLower, BLUE),
          lineDs('Na-recoils upper', naUpper, BLUE),
          lineDs('e band lower', eBandLower, BLACK),
          lineDs('e band upper', eBandUpper, BLACK),
          dotDs('40K 3 keV', pts(peak3keV)),
          dotDs('40K 3 keV wide', flatPts(peak3keVWide)),
          dotDs('bg low', pts(bgLowEnergy)),
          dotDs('bg low dense', flatPts(bgLowEnergyDense)),
          dotDs('bg mid', pts(bgMidEnergy)),
          dotDs('bg mid dense', flatPts(bgMidEnergyDense)),
          dotDs('bg high', pts(bgHighEnergy)),
          dotDs('bg high dense', flatPts(bgHighEnergyDense)),
          dotDs('bg outliers', pts(bgOutliers)),
        ] as any,
      },
      options: {
        responsive: false,
        animation: false,
        devicePixelRatio: 1,
        events: [],
        layout: { padding: { left: 0, right: 10, top: 29, bottom: 0 } },
        plugins: { legend: { display: false }, tooltip: { enabled: false }, title: { display: false } },
        scales: {
          x: {
            type: 'linear',
            min: 1,
            max: 70,
            grid: { display: false, drawTicks: false },
            border: { display: false },
            afterBuildTicks: (s: any) => { s.ticks = xTickValues.map((v) => ({ value: v })); },
            afterFit: (s: any) => { s.height = 45; },
            ticks: {
              autoSkip: false,
              maxRotation: 0,
              padding: 6,
              color: '#000',
              font: { family: '"Liberation Serif"', weight: 'bold', size: 17 },
              callback: (v: any) => String(v),
            },
          },
          y: {
            type: 'linear',
            min: -0.5,
            max: 1.5,
            grid: { display: false, drawTicks: false },
            border: { display: false },
            afterBuildTicks: (s: any) => { s.ticks = yTickValues.map((v) => ({ value: v })); },
            afterFit: (s: any) => { s.width = 67; },
            ticks: {
              autoSkip: false,
              padding: 5,
              color: '#000',
              font: { family: '"Liberation Sans"', weight: 'bold', size: 17 },
              callback: (v: any) => String(Math.round(v * 10) / 10),
            },
          },
        },
      } as any,
      plugins: [decorPlugin],
    });
    return () => chart.destroy();
  }, []);
  return (
    <div style={{ position: 'absolute', left: 0, top: 0, width: 646, height: 449, background: '#fff' }}>
      <canvas ref={ref} width={646} height={449} style={{ display: 'block', width: 646, height: 449 }} />
    </div>
  );
}
